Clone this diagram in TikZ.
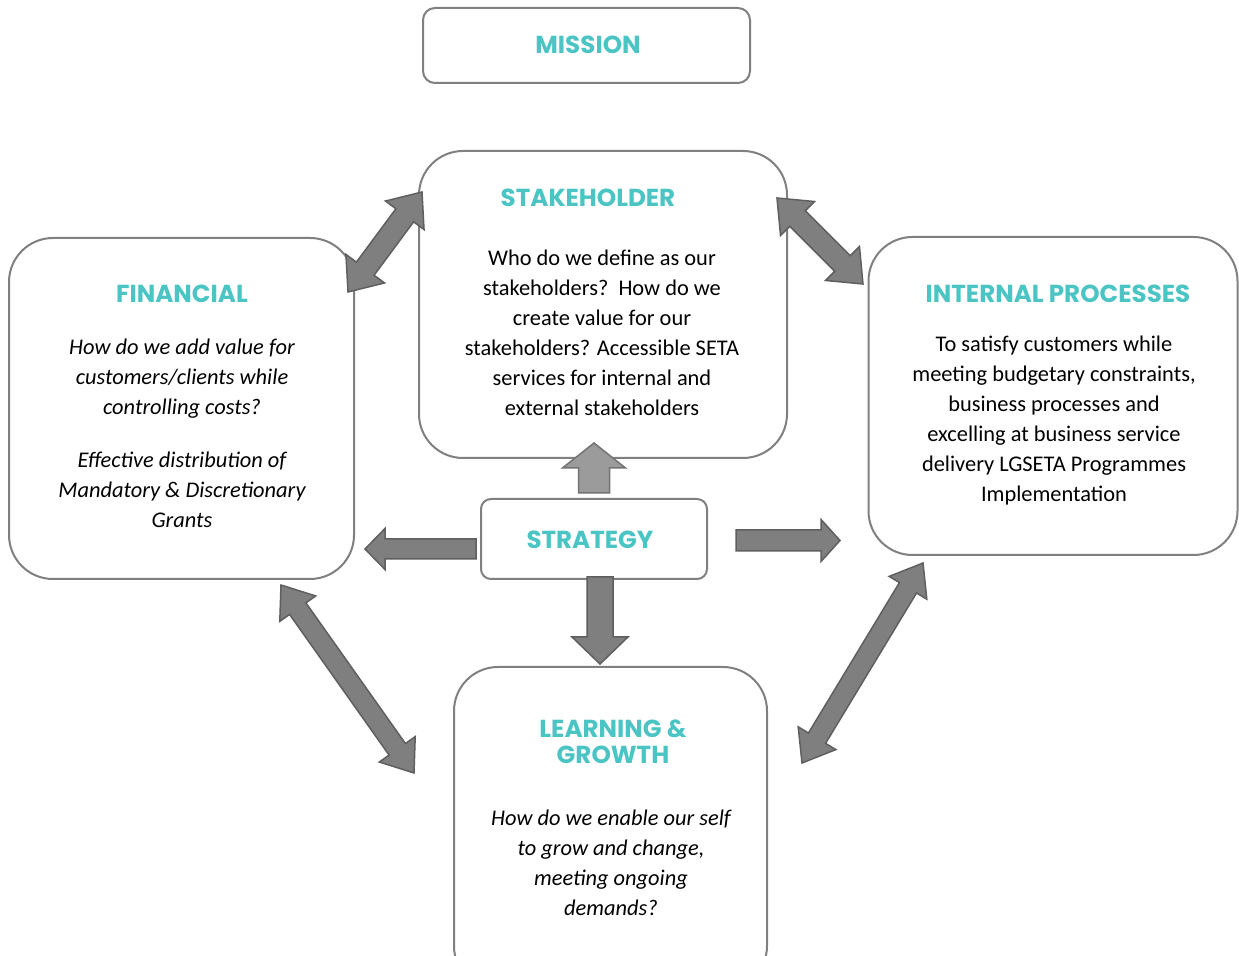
\documentclass[tikz,border=0pt]{standalone}
\usepackage{fontspec}
\setmainfont{Carlito}
\newfontfamily\titlefont{Poppins}
\usetikzlibrary{calc}
\definecolor{teal1}{RGB}{75,196,196}
\definecolor{boxgray}{RGB}{128,128,128}
\definecolor{arrfill}{RGB}{127,127,127}
\definecolor{arrline}{RGB}{95,95,95}
\definecolor{arrfillL}{RGB}{155,155,155}
\definecolor{arrlineL}{RGB}{115,115,115}
\newcommand\dblarrow[6]{%
  \coordinate (da1) at ($(#1)!#5!(#2)$);
  \coordinate (db1) at ($(#2)!#5!(#1)$);
  \draw[#6] (#1) -- ($(da1)!#4!90:(#2)$) -- ($(da1)!#3!90:(#2)$) -- ($(db1)!#3!-90:(#1)$) -- ($(db1)!#4!-90:(#1)$) -- (#2) -- ($(db1)!#4!90:(#1)$) -- ($(db1)!#3!90:(#1)$) -- ($(da1)!#3!-90:(#2)$) -- ($(da1)!#4!-90:(#2)$) -- cycle;}
\newcommand\sglarrow[6]{%
  \coordinate (sb1) at ($(#2)!#5!(#1)$);
  \draw[#6] ($(#1)!#3!90:(#2)$) -- ($(sb1)!#3!-90:(#1)$) -- ($(sb1)!#4!-90:(#1)$) -- (#2) -- ($(sb1)!#4!90:(#1)$) -- ($(sb1)!#3!90:(#1)$) -- ($(#1)!#3!-90:(#2)$) -- cycle;}
\tikzset{
  bigbox/.style={draw=boxgray, line width=1pt, rounded corners=22pt, fill=white, inner sep=0pt},
  smallbox/.style={draw=boxgray, line width=1pt, rounded corners=6pt, fill=white, inner sep=0pt},
  title/.style={text=teal1, font=\titlefont\bfseries\fontsize{12.3}{13}\selectfont, align=center, inner sep=0pt},
  body/.style={font=\fontsize{11.2}{15}\selectfont, align=center, inner sep=0pt},
  ibody/.style={font=\fontsize{11.2}{15}\selectfont\itshape, align=center, inner sep=0pt},
  blk/.style={fill=arrfill, draw=arrline, line width=0.75pt, line join=miter},
  blkL/.style={fill=arrfillL, draw=arrlineL, line width=0.75pt, line join=miter}
}
\begin{document}
\begin{tikzpicture}[x=0.5pt, y=-0.5pt]
\clip (0,0) rectangle (1239,956);
\fill[white] (0,0) rectangle (1239,956);
% boxes
\node[smallbox, minimum width=163.5pt, minimum height=37.5pt] (mission) at (586.5,45.5) {};
\node[bigbox, minimum width=184pt, minimum height=153.5pt] (stake) at (603,304.5) {};
\node[bigbox, minimum width=172.5pt, minimum height=170.5pt] (fin) at (181.5,408.5) {};
\node[bigbox, minimum width=184.5pt, minimum height=159pt] (intp) at (1053,396) {};
\node[smallbox, rounded corners=5pt, minimum width=113pt, minimum height=40pt] (strat) at (594,539) {};
\node[bigbox, minimum width=156.5pt, minimum height=161.5pt] (learn) at (610.5,828.5) {};
% texts
\node[title] (missiont) at (588,45) {MISSION};
\node[title] (staket) at (588,198) {STAKEHOLDER};
\node[body] (stakeb) at (602,333) {Who do we define as our\\stakeholders?\ \ How do we\\create value for our\\stakeholders? Accessible SETA\\services for internal and\\external stakeholders};
\node[title] (fint) at (182,294) {FINANCIAL};
\node[ibody] (finb) at (182,433) {How do we add value for\\customers/clients while\\controlling costs?\\[11.5pt]Effective distribution of\\Mandatory \& Discretionary\\Grants};
\node[title] (intpt) at (1058,294) {INTERNAL PROCESSES};
\node[body] (intpb) at (1054,421) {To satisfy customers while\\meeting budgetary constraints,\\business processes and\\excelling at business service\\delivery LGSETA Programmes\\Implementation};
\node[title] (stratt) at (590,540) {STRATEGY};
\node[title] (learnt) at (613,742) {LEARNING \&\\GROWTH};
\node[ibody] (learnb) at (611,863) {How do we enable our self\\to grow and change,\\meeting ongoing\\demands?};
% arrow end points
\coordinate (upT) at (594,493);
\coordinate (upH) at (594,443);
\coordinate (lfT) at (476,549);
\coordinate (lfH) at (365,549);
\coordinate (rtT) at (736,540.5);
\coordinate (rtH) at (840,540.5);
\coordinate (dnT) at (600,577);
\coordinate (dnH) at (600,664);
\coordinate (fsA) at (348,292);
\coordinate (fsB) at (422,192);
\coordinate (siA) at (777,198);
\coordinate (siB) at (863,284);
\coordinate (flA) at (281,585);
\coordinate (flB) at (414,773);
\coordinate (ilA) at (923,563);
\coordinate (ilB) at (802,763);
% arrows
\sglarrow{upT}{upH}{7.75pt}{15.75pt}{12.5pt}{blkL}
\sglarrow{lfT}{lfH}{5pt}{10.25pt}{10pt}{blk}
\sglarrow{rtT}{rtH}{5.25pt}{10.5pt}{9.5pt}{blk}
\sglarrow{dnT}{dnH}{6.5pt}{14pt}{13.5pt}{blk}
\dblarrow{fsA}{fsB}{5.5pt}{12pt}{14.5pt}{blk}
\dblarrow{siA}{siB}{5.5pt}{12pt}{14.5pt}{blk}
\dblarrow{flA}{flB}{5pt}{11pt}{14.5pt}{blk}
\dblarrow{ilA}{ilB}{5pt}{11pt}{14.5pt}{blk}
\end{tikzpicture}
\end{document}
